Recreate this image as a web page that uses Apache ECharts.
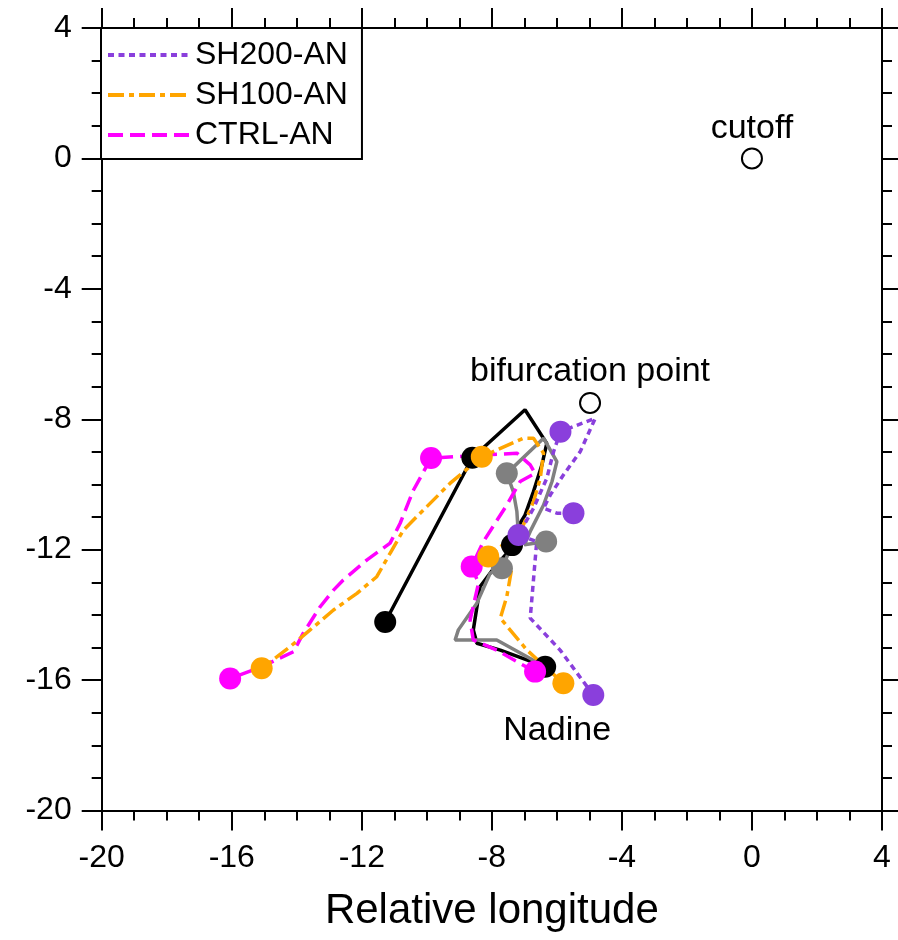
<!DOCTYPE html>
<html>
<head>
<meta charset="utf-8">
<script src="https://cdn.jsdelivr.net/npm/echarts@6/dist/echarts.min.js"></script>
<style>html,body{margin:0;padding:0;background:#fff;}#chart{width:898px;height:940px;}</style>
</head>
<body>
<div id="chart"></div>
<script>
// ---- Data (relative longitude, relative latitude) ----
const xTicks = [-20, -16, -12, -8, -4, 0, 4];
const yTicks = [-20, -16, -12, -8, -4, 0, 4];

const nadineTrack = [[-6.36,-15.59],[-7.74,-15.08],[-8.46,-14.87],[-8.57,-14.46],[-8.36,-13.13],[-7.9,-12.52],[-7.44,-12.0],[-7.38,-11.86],[-7.13,-11.19],[-6.98,-10.94],[-6.72,-10.22],[-6.46,-9.4],[-6.31,-8.74],[-6.98,-7.71],[-8.6,-9.18],[-11.28,-14.22]];
const nadineDots = [[-6.36,-15.59],[-7.38,-11.86],[-8.6,-9.18],[-11.28,-14.22]];

const grayTrack = [[-6.36,-15.59],[-7.85,-14.77],[-9.13,-14.77],[-9.03,-14.46],[-8.46,-13.64],[-8.05,-12.72],[-7.69,-12.57],[-7.49,-12.11],[-7.2,-11.3],[-7.23,-10.83],[-7.34,-10.22],[-7.54,-9.66],[-6.41,-8.58],[-6.0,-9.3],[-6.15,-9.91],[-6.41,-10.63],[-6.8,-11.4],[-7.0,-11.85],[-6.33,-11.75]];
const grayDots = [[-7.69,-12.57],[-7.54,-9.66],[-6.33,-11.75]];

const ctrlTrack = [[-6.67,-15.74],[-7.13,-15.49],[-7.85,-15.08],[-8.57,-14.77],[-8.67,-14.16],[-8.41,-13.03],[-8.62,-12.52],[-8.26,-11.75],[-7.54,-10.63],[-7.13,-9.91],[-6.67,-9.66],[-6.82,-9.4],[-7.23,-9.04],[-8.3,-9.1],[-9.87,-9.19],[-10.41,-10.17],[-10.82,-11.19],[-11.13,-11.8],[-11.85,-12.32],[-12.57,-12.93],[-12.87,-13.24],[-13.28,-13.75],[-13.8,-14.56],[-14.1,-15.13],[-15.08,-15.59],[-16.05,-15.95]];
const ctrlDots = [[-6.67,-15.74],[-8.62,-12.52],[-9.87,-9.19],[-16.05,-15.95]];

const sh100Track = [[-5.8,-16.1],[-6.92,-15.08],[-7.74,-14.1],[-7.54,-13.44],[-7.38,-12.52],[-7.6,-12.35],[-8.11,-12.21],[-7.6,-11.8],[-7.34,-11.96],[-7.03,-11.24],[-6.72,-10.53],[-6.51,-9.81],[-6.41,-9.04],[-6.72,-8.58],[-7.03,-8.58],[-8.31,-9.15],[-9.28,-9.96],[-10.0,-10.68],[-10.72,-11.4],[-11.13,-12.11],[-11.54,-12.83],[-12.15,-13.34],[-12.87,-13.85],[-13.59,-14.46],[-14.21,-14.98],[-15.08,-15.64]];
const sh100Dots = [[-5.8,-16.1],[-8.11,-12.21],[-8.31,-9.15],[-15.08,-15.64]];

const sh200Track = [[-4.88,-16.46],[-5.9,-15.08],[-6.82,-14.1],[-6.72,-12.93],[-6.62,-11.75],[-7.18,-11.55],[-6.72,-10.73],[-6.31,-9.81],[-6.1,-8.99],[-5.89,-8.38],[-4.82,-7.97],[-5.28,-8.99],[-5.8,-9.71],[-6.2,-10.32],[-6.41,-10.73],[-6.0,-10.88],[-5.49,-10.88]];
const sh200Dots = [[-4.88,-16.46],[-7.18,-11.55],[-5.89,-8.38],[-5.49,-10.88]];

const cutoffPoint = [[0, 0]];
const bifurcationPoint = [[-4.98, -7.5]];

// ---- Chart ----
const chart = echarts.init(document.getElementById('chart'), null, {renderer: 'canvas'});
const FONT = 'Liberation Sans, Arial, Helvetica, sans-serif';

function axisCommon(showLabel) {
  return {
    type: 'value', min: xTicks[0], max: xTicks[xTicks.length - 1], interval: 4,
    axisLine: {show: true, onZero: false, lineStyle: {color: '#000', width: 2}},
    axisTick: {show: true, length: 20, lineStyle: {color: '#000', width: 2}},
    minorTick: {show: true, splitNumber: 4, length: 10, lineStyle: {color: '#000', width: 2}},
    splitLine: {show: false},
    axisLabel: {show: showLabel, color: '#000', fontSize: 32, fontFamily: FONT}
  };
}

const lineSeries = (name, data, color, type, width) => ({
  name, type: 'line', data, symbol: 'none', z: 3,
  lineStyle: {color, width: width || 3.5, type},
  itemStyle: {color},
  animation: false
});
const dotSeries = (name, data, color, z) => ({
  name, type: 'scatter', data, symbol: 'circle', symbolSize: 22, z,
  itemStyle: {color, opacity: 1}, animation: false, silent: true
});

const option = {
  backgroundColor: '#fff',
  animation: false,
  grid: {left: 101.7, right: 16, top: 28, bottom: 129.5, containLabel: false},
  legend: {
    data: ['SH200-AN', 'SH100-AN', 'CTRL-AN'],
    orient: 'vertical', left: 101, top: 28,
    itemWidth: 82, itemHeight: 14, itemGap: 8,
    padding: [11, 14, 8, 5],
    backgroundColor: '#fff', borderColor: '#000', borderWidth: 2, borderRadius: 0,
    itemStyle: {opacity: 0},
    lineStyle: {width: 4},
    textStyle: {color: '#000', fontSize: 32, fontFamily: FONT},
    selectedMode: false
  },
  xAxis: [
    Object.assign(axisCommon(true), {position: 'bottom',
      axisLabel: {show: true, color: '#000', fontSize: 32, fontFamily: FONT, margin: 32},
      name: 'Relative longitude', nameLocation: 'middle', nameGap: 80,
      nameTextStyle: {color: '#000', fontSize: 42, fontFamily: FONT}}),
    Object.assign(axisCommon(false), {position: 'top'})
  ],
  yAxis: [
    Object.assign(axisCommon(true), {position: 'left', min: yTicks[0], max: yTicks[yTicks.length - 1],
      axisLabel: {show: true, color: '#000', fontSize: 32, fontFamily: FONT, margin: 30}}),
    Object.assign(axisCommon(false), {position: 'right', min: yTicks[0], max: yTicks[yTicks.length - 1]})
  ],
  series: [
    lineSeries('Nadine', nadineTrack, '#000000', 'solid', 3.5),
    lineSeries('Ensemble', grayTrack, '#808080', 'solid', 3.5),
    lineSeries('CTRL-AN', ctrlTrack, '#FF00FF', [15, 7]),
    lineSeries('SH100-AN', sh100Track, '#FFA500', [16, 5, 5, 5]),
    lineSeries('SH200-AN', sh200Track, '#8A3FDC', [6, 4.5]),
    Object.assign(dotSeries('Nadine dots', nadineDots, '#000000', 4), {
      label: {show: true, formatter: (p) => p.dataIndex === 0 ? 'Nadine' : '',
        position: 'bottom', offset: [12, 31], color: '#000', fontSize: 34, fontFamily: FONT}
    }),
    dotSeries('gray dots', grayDots, '#808080', 5),
    dotSeries('CTRL dots', ctrlDots, '#FF00FF', 6),
    dotSeries('SH100 dots', sh100Dots, '#FFA500', 7),
    dotSeries('SH200 dots', sh200Dots, '#8A3FDC', 8),
    {
      name: 'cutoff', type: 'scatter', data: cutoffPoint, symbol: 'circle', symbolSize: 20, z: 9,
      itemStyle: {color: '#fff', borderColor: '#000', borderWidth: 2, opacity: 1},
      label: {show: true, formatter: 'cutoff', position: 'top', distance: 2, color: '#000', fontSize: 34, fontFamily: FONT},
      animation: false
    },
    {
      name: 'bifurcation', type: 'scatter', data: bifurcationPoint, symbol: 'circle', symbolSize: 20, z: 9,
      itemStyle: {color: '#fff', borderColor: '#000', borderWidth: 2, opacity: 1},
      label: {show: true, formatter: 'bifurcation point', position: 'top', distance: 3, color: '#000', fontSize: 34, fontFamily: FONT},
      animation: false
    }
  ]
};
chart.setOption(option);
</script>
</body>
</html>
